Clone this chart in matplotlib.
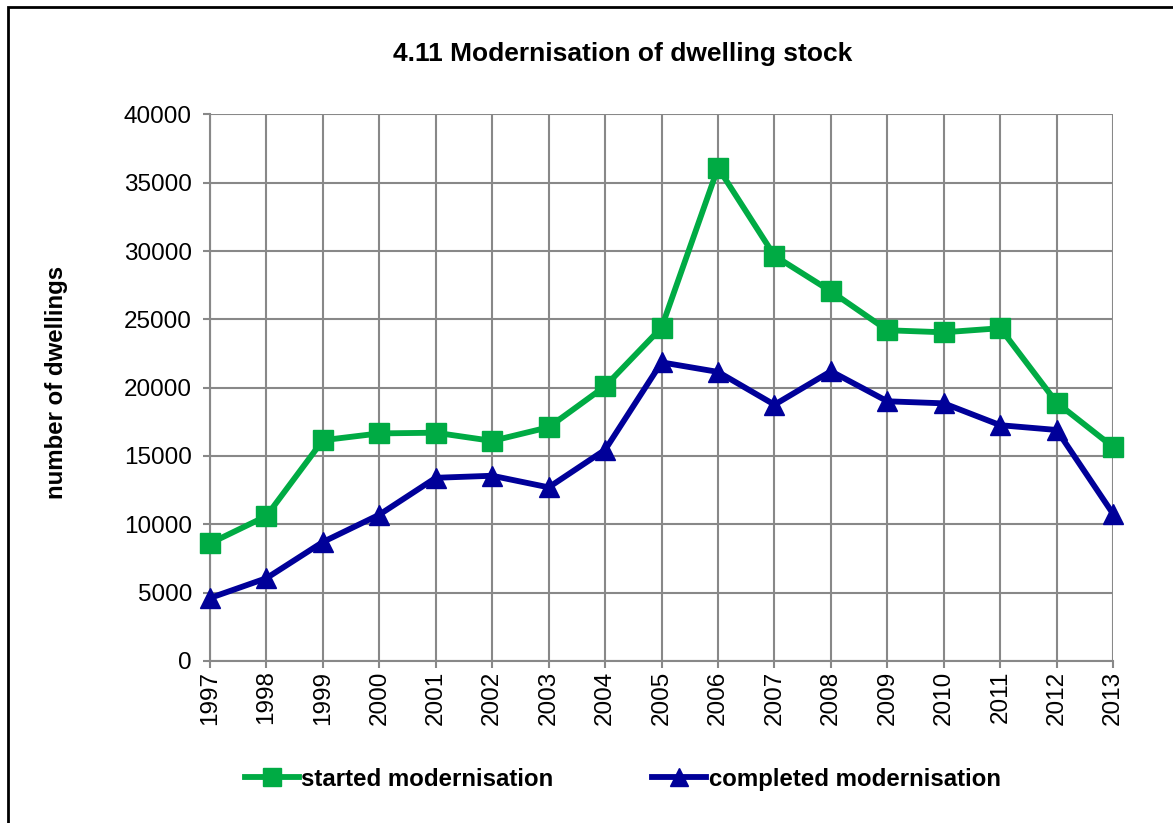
import matplotlib

matplotlib.use("Agg")
import matplotlib.pyplot as plt
from matplotlib.patches import Rectangle

years = list(range(1997, 2014))
started = [8600, 10600, 16150, 16650, 16700, 16100, 17100, 20100, 24400,
           36100, 29650, 27050, 24200, 24050, 24350, 18900, 15650]
completed = [4600, 6050, 8700, 10700, 13400, 13550, 12700, 15450, 21850,
             21150, 18750, 21200, 19000, 18850, 17250, 16900, 10750]

GREEN = "#00AB44"
NAVY = "#000099"
GRID = "#888888"

plt.rcParams["font.family"] = ["Liberation Sans", "DejaVu Sans"]

fig = plt.figure(figsize=(11.73, 8.23), dpi=100)
ax = fig.add_axes([0.179, 0.197, 0.770, 0.664])

ax.plot(years, started, color=GREEN, lw=4.2, marker="s", ms=14,
        label="started modernisation", zorder=3, clip_on=False)
ax.plot(years, completed, color=NAVY, lw=4.2, marker="^", ms=14,
        label="completed modernisation", zorder=3, clip_on=False)

ax.set_xlim(1997, 2013)
ax.set_ylim(0, 40000)
ax.set_yticks(range(0, 40001, 5000))
ax.set_xticks(years)
ax.set_xticklabels([str(y) for y in years], rotation=90)
ax.tick_params(labelsize=17.5, color=GRID, length=5, width=1.5)
ax.tick_params(axis="y", pad=8)
ax.tick_params(axis="x", pad=2)
ax.grid(True, color=GRID, lw=1.5)
ax.set_axisbelow(True)
for side in ("top", "right"):
    ax.spines[side].set_visible(False)
for side in ("left", "bottom"):
    ax.spines[side].set_color(GRID)
    ax.spines[side].set_linewidth(1.5)

ax.set_ylabel("number of dwellings", fontsize=17.3, fontweight="bold")
ax.yaxis.set_label_coords(-0.157, 0.51)
fig.text(0.531, 0.934, "4.11 Modernisation of dwelling stock", ha="center",
         va="center", fontsize=19, fontweight="bold")

fig.legend(loc="center", bbox_to_anchor=(0.531, 0.053), ncol=2, frameon=False,
           prop={"size": 17.3, "weight": "bold"}, handlelength=2.25,
           handletextpad=0.12, columnspacing=4.1, markerscale=0.95)

fig.add_artist(Rectangle((8 / 1173, -0.1), 1.2, 1 - 7 / 823 + 0.1,
                         transform=fig.transFigure, fill=False,
                         edgecolor="black", lw=2))

fig.savefig("out.png", dpi=100)
